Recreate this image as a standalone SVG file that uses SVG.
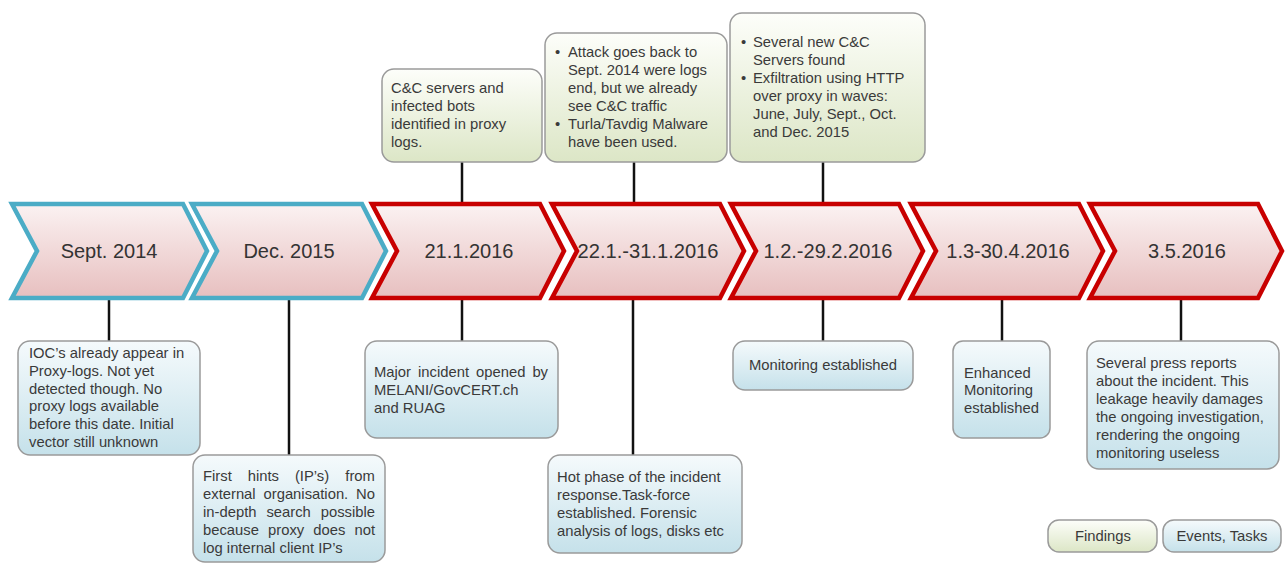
<svg xmlns="http://www.w3.org/2000/svg" width="1285" height="563" viewBox="0 0 1285 563">
<defs>
<linearGradient id="gChev" x1="0" y1="0" x2="0" y2="1">
<stop offset="0" stop-color="#FBF2F2"/><stop offset="1" stop-color="#E7BFBF"/>
</linearGradient>
<linearGradient id="gFind" x1="0" y1="0" x2="0" y2="1">
<stop offset="0" stop-color="#FDFEFA"/><stop offset="1" stop-color="#DCE6C6"/>
</linearGradient>
<linearGradient id="gEvt" x1="0" y1="0" x2="0" y2="1">
<stop offset="0" stop-color="#F5FAFC"/><stop offset="1" stop-color="#C5E1EA"/>
</linearGradient>
</defs>
<style>
.chev{fill:url(#gChev);stroke-width:4.5;stroke-linejoin:miter}
.blue{stroke:#4BACC6}
.red{stroke:#C80000}
.lbl{font-family:"Liberation Sans",Arial,sans-serif;font-size:20px;fill:#333;text-anchor:middle}
.t{font-family:"Liberation Sans",Arial,sans-serif;font-size:14.8px;fill:#3a3a3a}
.c{text-anchor:middle}
.find{fill:url(#gFind);stroke:#9a9a9a;stroke-width:1.5}
.evt{fill:url(#gEvt);stroke:#9a9a9a;stroke-width:1.5}
.con{stroke:#111;stroke-width:2.5;fill:none}
</style>
<rect width="1285" height="563" fill="#fff"/>

<g id="connectors">
<line class="con" x1="109" y1="300" x2="109" y2="341"/>
<line class="con" x1="289" y1="300" x2="289" y2="455"/>
<line class="con" x1="462" y1="162" x2="462" y2="202"/>
<line class="con" x1="462" y1="300" x2="462" y2="341"/>
<line class="con" x1="634" y1="162" x2="634" y2="202"/>
<line class="con" x1="633" y1="300" x2="633" y2="455"/>
<line class="con" x1="823" y1="162" x2="823" y2="202"/>
<line class="con" x1="823" y1="300" x2="823" y2="341"/>
<line class="con" x1="1002" y1="300" x2="1002" y2="341"/>
<line class="con" x1="1181" y1="300" x2="1181" y2="341"/>
</g>

<g id="chev1"><path class="chev blue" d="M12,204 L183,204 L207,251 L183,298 L12,298 L37,251 Z"/><text class="lbl" x="109" y="258">Sept. 2014</text></g>
<g id="chev2"><path class="chev blue" d="M192,204 L362,204 L386,251 L362,298 L192,298 L217,251 Z"/><text class="lbl" x="289" y="258">Dec. 2015</text></g>
<g id="chev3"><path class="chev red" d="M372,204 L540,204 L564,251 L540,298 L372,298 L397,251 Z"/><text class="lbl" x="469" y="258">21.1.2016</text></g>
<g id="chev4"><path class="chev red" d="M552,204 L720,204 L744,251 L720,298 L552,298 L577,251 Z"/><text class="lbl" x="648" y="258" textLength="141" lengthAdjust="spacingAndGlyphs">22.1.-31.1.2016</text></g>
<g id="chev5"><path class="chev red" d="M731,204 L899,204 L923,251 L899,298 L731,298 L756,251 Z"/><text class="lbl" x="828" y="258">1.2.-29.2.2016</text></g>
<g id="chev6"><path class="chev red" d="M911,204 L1079,204 L1103,251 L1079,298 L911,298 L936,251 Z"/><text class="lbl" x="1008" y="258">1.3-30.4.2016</text></g>
<g id="chev7"><path class="chev red" d="M1090,204 L1258,204 L1282,251 L1258,298 L1090,298 L1115,251 Z"/><text class="lbl" x="1187" y="258">3.5.2016</text></g>

<g id="findA">
<rect class="find" x="382" y="69" width="160" height="93" rx="12"/>
<text class="t" x="391" y="93">C&amp;C servers and</text>
<text class="t" x="391" y="111">infected bots</text>
<text class="t" x="391" y="129">identified in proxy</text>
<text class="t" x="391" y="147">logs.</text>
</g>

<g id="findB">
<rect class="find" x="545" y="33" width="182" height="129" rx="12"/>
<text class="t" x="555" y="57">•</text><text class="t" x="568" y="57">Attack goes back to</text>
<text class="t" x="568" y="75">Sept. 2014 were logs</text>
<text class="t" x="568" y="93">end, but we already</text>
<text class="t" x="568" y="111">see C&amp;C traffic</text>
<text class="t" x="555" y="129">•</text><text class="t" x="568" y="129">Turla/Tavdig Malware</text>
<text class="t" x="568" y="147">have been used.</text>
</g>

<g id="findC">
<rect class="find" x="730" y="13" width="195" height="149" rx="12"/>
<text class="t" x="741" y="47">•</text><text class="t" x="753" y="47">Several new C&amp;C</text>
<text class="t" x="753" y="65">Servers found</text>
<text class="t" x="741" y="83">•</text><text class="t" x="753" y="83">Exfiltration using HTTP</text>
<text class="t" x="753" y="101">over proxy in waves:</text>
<text class="t" x="753" y="119">June, July, Sept., Oct.</text>
<text class="t" x="753" y="137">and Dec. 2015</text>
</g>

<g id="evtD">
<rect class="evt" x="18" y="341" width="182" height="114" rx="12"/>
<text class="t" x="29" y="358">IOC’s already appear in</text>
<text class="t" x="29" y="376">Proxy-logs. Not yet</text>
<text class="t" x="29" y="394">detected though. No</text>
<text class="t" x="29" y="411">proxy logs available</text>
<text class="t" x="29" y="429">before this date. Initial</text>
<text class="t" x="29" y="447">vector still unknown</text>
</g>

<g id="evtE">
<rect class="evt" x="193" y="455" width="192" height="107" rx="12"/>
<text class="t" y="481"><tspan x="203">First</tspan><tspan x="247.7">hints</tspan><tspan x="294.9">(IP’s)</tspan><tspan x="345.3">from</tspan></text>
<text class="t" y="499"><tspan x="203">external</tspan><tspan x="263.5">organisation.</tspan><tspan x="356.1">No</tspan></text>
<text class="t" y="517"><tspan x="203">in-depth</tspan><tspan x="266.4">search</tspan><tspan x="320.7">possible</tspan></text>
<text class="t" y="535"><tspan x="203">because</tspan><tspan x="268">proxy</tspan><tspan x="313.3">does</tspan><tspan x="354.5">not</tspan></text>
<text class="t" x="203" y="553">log internal client IP’s</text>
</g>

<g id="evtF">
<rect class="evt" x="365" y="341" width="193" height="97" rx="12"/>
<text class="t" y="377"><tspan x="374">Major</tspan><tspan x="418">incident</tspan><tspan x="476">opened</tspan><tspan x="532.4">by</tspan></text>
<text class="t" x="374" y="395">MELANI/GovCERT.ch</text>
<text class="t" x="374" y="413">and RUAG</text>
</g>

<g id="evtG">
<rect class="evt" x="548" y="455" width="194" height="98" rx="12"/>
<text class="t" x="557" y="482">Hot phase of the incident</text>
<text class="t" x="557" y="500">response.Task-force</text>
<text class="t" x="557" y="518">established. Forensic</text>
<text class="t" x="557" y="536">analysis of logs, disks etc</text>
</g>

<g id="evtH">
<rect class="evt" x="733" y="341" width="180" height="49" rx="12"/>
<text class="t c" x="823" y="370">Monitoring established</text>
</g>

<g id="evtI">
<rect class="evt" x="953" y="341" width="97" height="97" rx="10"/>
<text class="t" x="964" y="378">Enhanced</text>
<text class="t" x="964" y="395">Monitoring</text>
<text class="t" x="964" y="413">established</text>
</g>

<g id="evtJ">
<rect class="evt" x="1087" y="341" width="192" height="128" rx="12"/>
<text class="t" x="1096" y="368">Several press reports</text>
<text class="t" x="1096" y="386">about the incident. This</text>
<text class="t" x="1096" y="404">leakage heavily damages</text>
<text class="t" x="1096" y="422">the ongoing investigation,</text>
<text class="t" x="1096" y="440">rendering the ongoing</text>
<text class="t" x="1096" y="458">monitoring useless</text>
</g>

<g id="legendFindings">
<rect class="find" x="1048" y="520" width="109" height="32" rx="11"/>
<text class="t c" x="1103" y="541">Findings</text>
</g>
<g id="legendEvents">
<rect class="evt" x="1163" y="520" width="118" height="32" rx="11"/>
<text class="t c" x="1222" y="541">Events, Tasks</text>
</g>
</svg>
